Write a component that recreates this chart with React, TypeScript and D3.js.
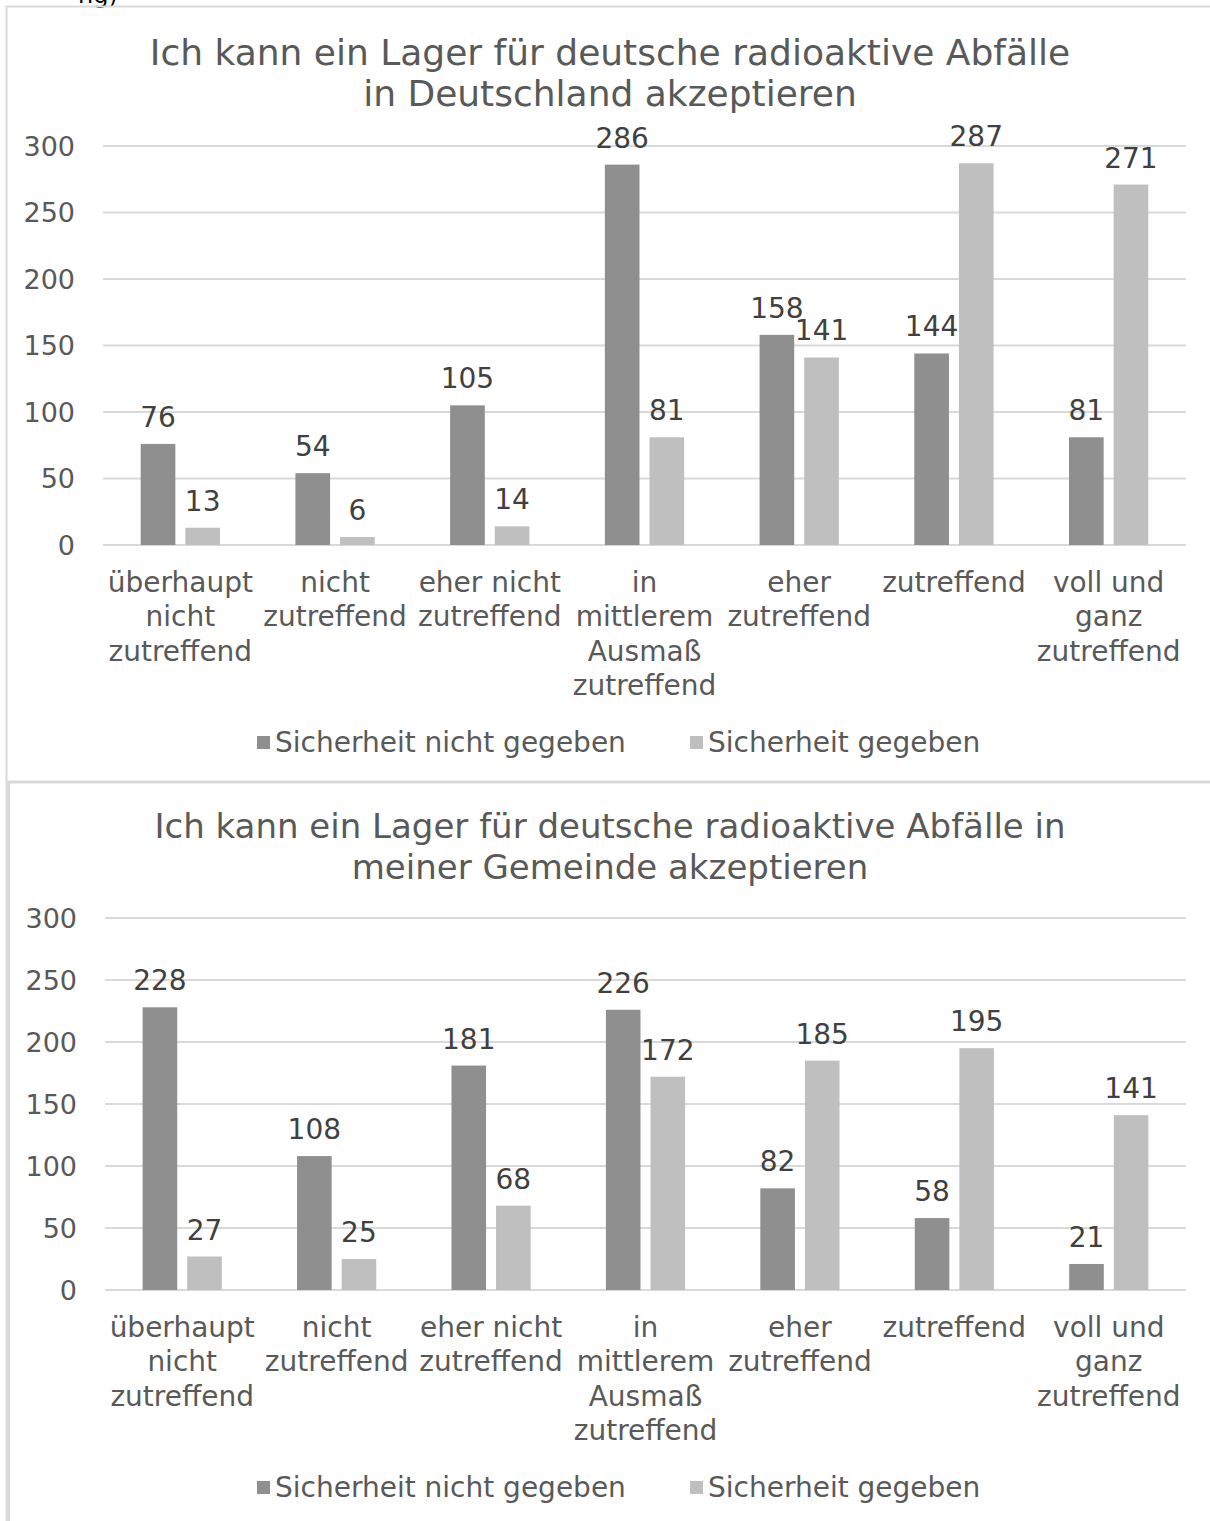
import React from 'react';
import * as d3 from 'd3';

const categories = [
  'überhaupt nicht zutreffend',
  'nicht zutreffend',
  'eher nicht zutreffend',
  'in mittlerem Ausmaß zutreffend',
  'eher zutreffend',
  'zutreffend',
  'voll und ganz zutreffend',
];
// wrapped the way the original axis shows them
const categoryLines = [
  ['überhaupt', 'nicht', 'zutreffend'],
  ['nicht', 'zutreffend'],
  ['eher nicht', 'zutreffend'],
  ['in', 'mittlerem', 'Ausmaß', 'zutreffend'],
  ['eher', 'zutreffend'],
  ['zutreffend'],
  ['voll und', 'ganz', 'zutreffend'],
];
const seriesNames = ['Sicherheit nicht gegeben', 'Sicherheit gegeben'];
const deutschlandNicht = [76, 54, 105, 286, 158, 144, 81];
const deutschlandGegeben = [13, 6, 14, 81, 141, 287, 271];
const gemeindeNicht = [228, 108, 181, 226, 82, 58, 21];
const gemeindeGegeben = [27, 25, 68, 172, 185, 195, 141];
const yTicks = [0, 50, 100, 150, 200, 250, 300];

const FONT = '"DejaVu Sans", Verdana, sans-serif';
const TEXT = '#595959';
const LABEL = '#404040';
const GRID = '#d9d9d9';
const colors = ['#8f8f8f', '#bfbfbf'];

interface PanelProps {
  title: string[];
  titleY: number;
  titleSize: number;
  top: number;
  bottom: number;
  left: number;
  right: number;
  series: number[][];
  legendY: number;
}

const Panel: React.FC<PanelProps> = ({ title, titleY, titleSize, top, bottom, left, right, series, legendY }) => {
  const x = d3.scaleBand<string>().domain(categories).range([left, right]);
  const y = d3.scaleLinear().domain([0, 300]).range([bottom, top]);
  const bw = x.bandwidth() * 0.224;
  const gap = 10;
  return (
    <g>
      {title.map((t, i) => (
        <text key={i} x={610} y={titleY + i * 41} textAnchor="middle" dominantBaseline="central"
          fontSize={titleSize} fill={TEXT}>{t}</text>
      ))}
      {yTicks.map((t) => (
        <g key={t}>
          <line x1={left} x2={right} y1={y(t)} y2={y(t)} stroke={GRID} strokeWidth={2} />
          <text x={left - 28} y={y(t)} textAnchor="end" dominantBaseline="central" fontSize={27} fill={TEXT}>{t}</text>
        </g>
      ))}
      {categories.map((c, i) => {
        const cx = (x(c) as number) + x.bandwidth() / 2;
        return (
          <g key={c}>
            {series.map((s, j) => {
              const bx = j === 0 ? cx - gap / 2 - bw : cx + gap / 2;
              return (
                <g key={j}>
                  <rect x={bx} y={y(s[i])} width={bw} height={bottom - y(s[i])} fill={colors[j]} />
                  <text x={bx + bw / 2} y={y(s[i]) - 17} textAnchor="middle" fontSize={28} fill={LABEL}>{s[i]}</text>
                </g>
              );
            })}
            {categoryLines[i].map((l, k) => (
              <text key={k} x={cx} y={bottom + 37 + k * 34.5} textAnchor="middle" dominantBaseline="central"
                fontSize={28} fill={TEXT}>{l}</text>
            ))}
          </g>
        );
      })}
      {seriesNames.map((n, j) => {
        const lx = j === 0 ? 257 : 690;
        return (
          <g key={n}>
            <rect x={lx} y={legendY - 6} width={13} height={13} fill={colors[j]} />
            <text x={lx + 18} y={legendY} dominantBaseline="central" fontSize={28} fill={TEXT}>{n}</text>
          </g>
        );
      })}
    </g>
  );
};

export default function App() {
  return (
    <svg width={1210} height={1521} style={{ position: 'absolute', left: 0, top: 0, fontFamily: FONT }}>
      <rect width={1210} height={1521} fill="#fff" />
      <text x={78} y={3} fontSize={24} fill="#000">ng)</text>
      {/* chart frames */}
      <path d="M6.5,1521 V6.5 H1210" fill="none" stroke={GRID} strokeWidth={2} />
      <path d="M8.5,1521 V782 H1210" fill="none" stroke={GRID} strokeWidth={3} />
      <Panel title={['Ich kann ein Lager für deutsche radioaktive Abfälle', 'in Deutschland akzeptieren']}
        titleY={52} titleSize={36} top={146} bottom={545} left={103} right={1186}
        series={[deutschlandNicht, deutschlandGegeben]} legendY={742} />
      <Panel title={['Ich kann ein Lager für deutsche radioaktive Abfälle in', 'meiner Gemeinde akzeptieren']}
        titleY={826} titleSize={34} top={918} bottom={1290} left={105} right={1186}
        series={[gemeindeNicht, gemeindeGegeben]} legendY={1487} />
    </svg>
  );
}
